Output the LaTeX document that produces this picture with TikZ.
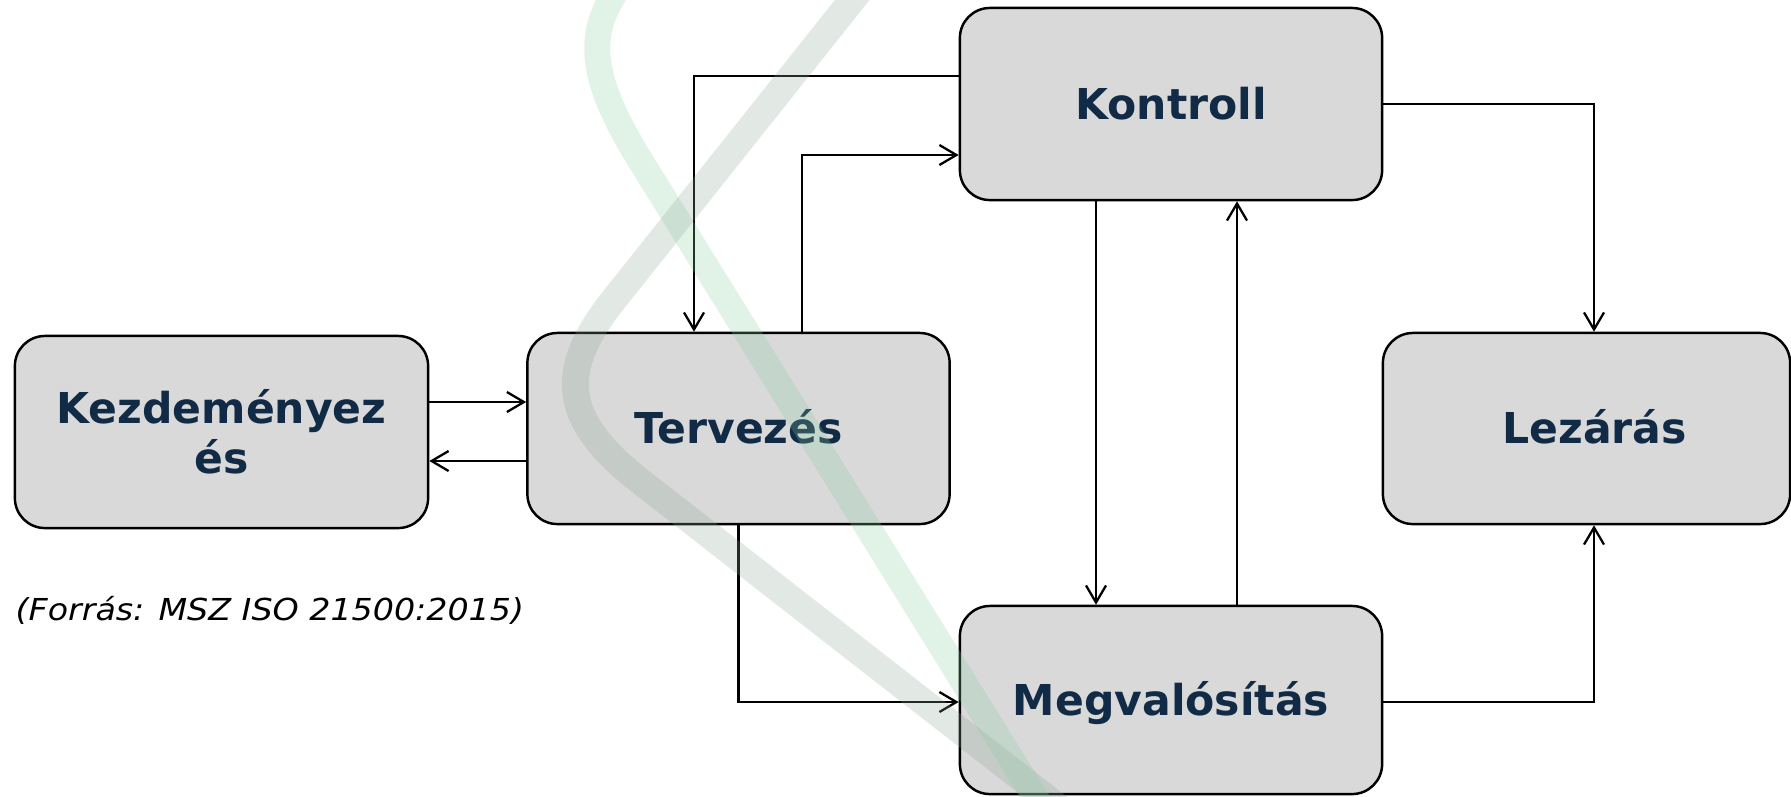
\documentclass[tikz,border=0pt]{standalone}
\usepackage{fontspec}
\setmainfont{DejaVu Sans}
\newfontfamily\notefont[FakeStretch=1.1]{DejaVu Sans}
\usetikzlibrary{arrows.meta}
\definecolor{navy}{RGB}{17,42,70}
\definecolor{boxgray}{RGB}{217,217,217}
\definecolor{bandgreen}{RGB}{137,204,162}
\definecolor{bandgray}{RGB}{141,164,149}

\begin{document}
\begin{tikzpicture}[x=0.01cm,y=-0.01cm,
  phasebox/.style={draw=black, line width=0.7pt, fill=boxgray, rounded corners=3mm,
    minimum width=4.22cm, minimum height=1.91cm, inner sep=0pt, align=center,
    font=\fontsize{12.1}{14.2}\selectfont\bfseries, text=navy},
  phase/.style={phasebox, text height=8.8pt, text depth=0pt},
  flow/.style={draw=black, line width=0.65pt, -{Straight Barb[length=1.7mm,width=2mm]}},
  band/.style={line cap=butt, line join=round, draw opacity=0.25},
  title/.style={anchor=base, inner sep=0pt, text=navy, font=\fontsize{12.1}{14.2}\selectfont\bfseries}]

\useasboundingbox (0,0) rectangle (1791,796);
\fill[white] (0,0) rectangle (1791,796);
\clip (0,0) rectangle (1791,796);

% heading line above the frame: only the descenders reach into view
\node[title] (t1) at (1178,-10) {g};
\node[title] (t2) at (1500,-10) {g};

% process groups
\node[phasebox, minimum width=4.13cm, minimum height=1.92cm] (kezd) at (221.5,432) {Kezdeményez\\és};
\node[phase] (terv) at (738.5,428.5) {Tervezés};
\node[phase, minimum height=1.92cm] (kontroll) at (1171,104) {Kontroll};
\node[phase, minimum width=4.07cm] (lezaras) at (1586.5,428.5) {\hspace*{1.6mm}Lezárás};
\node[phase, minimum height=1.88cm] (megval) at (1171,700) {Megvalósítás};

% connectors
\draw[flow] (kezd.east |- 0,402) -- (terv.west |- 0,402);
\draw[flow] (terv.west |- 0,461) -- (kezd.east |- 0,461);
\draw[flow] (kontroll.west |- 0,76) -| (694,0 |- terv.north);
\draw[flow] (802,0 |- terv.north) |- (kontroll.west |- 0,155);
\draw[flow] (kontroll.east) -| (1594,0 |- lezaras.north);
\draw[flow] (1096,0 |- kontroll.south) -- (1096,0 |- megval.north);
\draw[flow] (1237,0 |- megval.north) -- (1237,0 |- kontroll.south);
\draw[flow] (terv.south) |- (megval.west |- 0,702);
\draw[flow] (megval.east |- 0,702) -| (1594,0 |- lezaras.south);

% source note
\node[anchor=base west, inner sep=0pt, font=\notefont\fontsize{8.6}{10}\selectfont\itshape] (src) at (15,620) {(Forrás: MSZ ISO 21500:2015)};

% translucent logo strokes
\draw[band, draw=bandgray, line width=0.27cm]
  (884,-40) -- (613.5,300) .. controls (558,370) and (560,418.6) .. (640,481) -- (1062,810);
\draw[band, draw=bandgreen, line width=0.26cm]
  (660,-60) .. controls (590,10) and (572,50) .. (640,160) -- (1043,810);
\end{tikzpicture}
\end{document}
